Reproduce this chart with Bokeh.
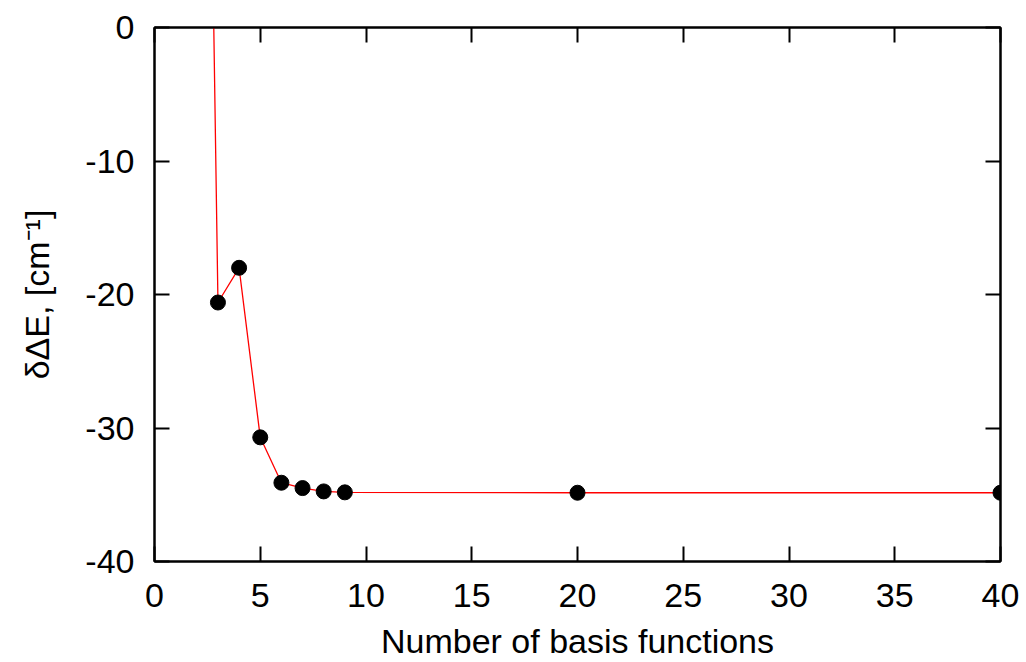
from bokeh.plotting import figure
from bokeh.models import Range1d, LinearAxis, CustomJSTickFormatter, FixedTicker
from bokeh.embed import file_html
from bokeh.resources import INLINE

# ---- data ----
n_basis = [2, 3, 4, 5, 6, 7, 8, 9, 20, 40]
delta_e = [84.0, -20.6, -18.0, -30.7, -34.1, -34.5, -34.75, -34.82, -34.85, -34.85]
x_ticks = [0, 5, 10, 15, 20, 25, 30, 35, 40]
y_ticks = [-40, -30, -20, -10, 0]
x_title = "Number of basis functions"
y_title = "δΔE, [cm⁻¹]"

FONT = "Liberation Sans"
FS = "34px"

p = figure(width=1026, height=662, output_backend="svg", toolbar_location=None,
           x_range=Range1d(0, 40), y_range=Range1d(-40, 0),
           min_border_left=154, min_border_right=26, min_border_top=27, min_border_bottom=100,
           x_axis_label=x_title, y_axis_label=y_title)
p.background_fill_color = "white"
p.border_fill_color = "white"
p.xgrid.visible = False
p.ygrid.visible = False
p.outline_line_color = "black"
p.outline_line_width = 2

plain = CustomJSTickFormatter(code="return String(tick)")


def style_axis(ax, labels=True):
    ax.axis_line_color = "black"
    ax.axis_line_width = 2
    ax.major_tick_in = 15
    ax.major_tick_out = 0
    ax.major_tick_line_width = 2
    ax.major_tick_line_color = "black"
    ax.minor_tick_line_color = None
    ax.major_label_text_font = FONT
    ax.major_label_text_font_size = FS
    ax.major_label_text_color = "black"
    ax.axis_label_text_font = FONT
    ax.axis_label_text_font_size = FS
    ax.axis_label_text_font_style = "normal"
    ax.axis_label_text_color = "black"
    if labels:
        ax.formatter = plain
    else:
        ax.formatter = CustomJSTickFormatter(code="return ''")
        ax.major_label_standoff = 0


xa = p.xaxis[0]
ya = p.yaxis[0]
style_axis(xa)
style_axis(ya)
xa.ticker = FixedTicker(ticks=x_ticks)
ya.ticker = FixedTicker(ticks=y_ticks)
xa.major_label_standoff = 22
xa.axis_label_standoff = 12
ya.major_label_standoff = 20
ya.axis_label_standoff = 26

top_ax = LinearAxis(ticker=FixedTicker(ticks=x_ticks))
style_axis(top_ax, labels=False)
p.add_layout(top_ax, "above")
right_ax = LinearAxis(ticker=FixedTicker(ticks=y_ticks))
style_axis(right_ax, labels=False)
p.add_layout(right_ax, "right")

p.line(n_basis, delta_e, line_color="#ff0000", line_width=1.3)
p.scatter(n_basis, delta_e, size=15, fill_color="black", line_color="black")

open("out.html", "w").write(file_html(p, INLINE))
